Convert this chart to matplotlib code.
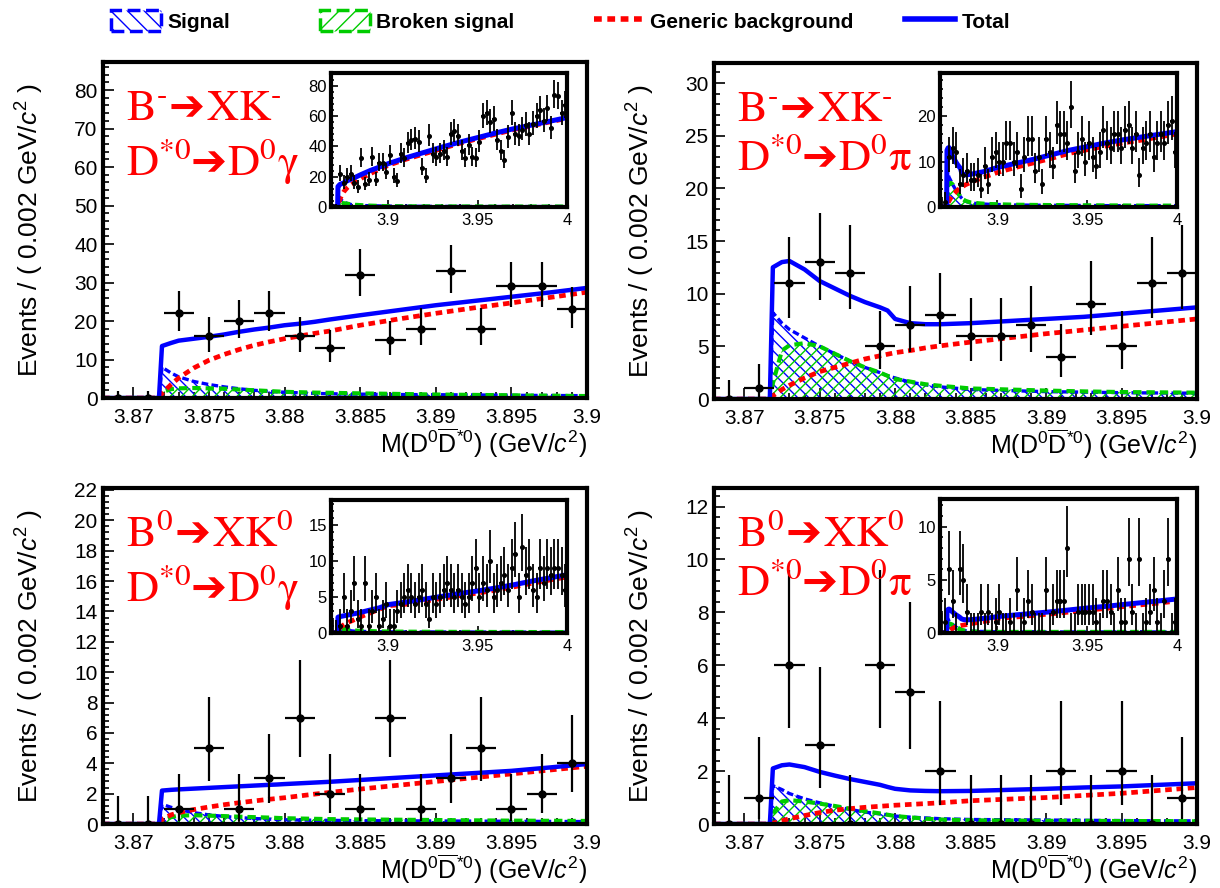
import math
import numpy as np
import matplotlib
matplotlib.use("Agg")
import matplotlib.pyplot as plt
from matplotlib.ticker import MultipleLocator, FuncFormatter
from matplotlib.patches import Patch
from matplotlib.lines import Line2D
from matplotlib.offsetbox import TextArea, HPacker, VPacker, AnnotationBbox

plt.rcParams.update({
    "font.family": ["Liberation Sans", "DejaVu Sans"],
    "mathtext.fontset": "custom",
    "mathtext.rm": "Liberation Sans",
    "mathtext.it": "Liberation Sans:italic",
    "mathtext.bf": "Liberation Sans:bold",
    "hatch.linewidth": 1.0,
})

# ---------------- data ----------------
X_MIN, X_MAIN_MAX, X_INSET_MAX, BIN_W = 3.868, 3.9, 4.0, 0.002

# counts per 0.002 GeV bin, 3.868 -> 4.0 (first 16 bins are the main-panel range)
TL_COUNTS = [0, 0, 22, 16, 20, 22, 16, 13, 32, 15, 18, 33, 18, 29, 29, 23] + \
    [34, 20, 17, 35, 32, 42, 44, 45, 43, 26, 20, 47, 35, 33, 35, 37, 33, 48, 50, 47,
     37, 32, 41, 33, 32, 43, 60, 62, 56, 58, 44, 37, 31, 46, 62, 48, 47, 51, 54, 48,
     55, 60, 64, 57, 65, 52, 74, 73, 62, 67]
TR_COUNTS = [0, 1, 11, 13, 12, 5, 7, 8, 6, 6, 7, 4, 9, 5, 11, 12] + \
    [10, 10, 14, 14, 10, 12, 4, 11, 15, 15, 8, 11, 5, 15, 12, 9, 18, 16, 16, 14,
     22, 8, 12, 15, 10, 14, 11, 9, 12, 17, 14, 13, 16, 16, 13, 17, 18, 13, 16, 7,
     13, 14, 16, 11, 14, 16, 14, 18, 19, 12]
BL_COUNTS = [0, 0, 1, 5, 1, 3, 7, 2, 1, 7, 1, 3, 5, 1, 2, 4] + \
    [1, 1, 3, 4, 5, 6, 5, 4, 5, 6, 4, 2, 5, 4, 5, 6, 7, 6, 5, 6,
     5, 4, 5, 7, 9, 5, 7, 6, 10, 5, 6, 7, 8, 6, 9, 11, 5, 12, 8, 9,
     6, 5, 9, 7, 9, 8, 9, 9, 8, 6]
BR_COUNTS = [0, 1, 6, 3, 0, 6, 5, 2, 0, 0, 0, 2, 0, 2, 0, 1] + \
    [2, 0, 0, 1, 0, 4, 0, 1, 3, 2, 0, 0, 0, 4, 0, 2, 3, 3, 3, 8,
     0, 0, 2, 2, 2, 2, 2, 1, 0, 3, 3, 2, 0, 4, 1, 1, 7, 2, 0, 7,
     0, 1, 2, 4, 1, 0, 3, 7, 0, 1]

# fitted PDF curves sampled at CURVE_X
CURVE_X = [3.868, 3.8717, 3.8719, 3.8725, 3.873, 3.874, 3.875, 3.876, 3.877, 3.878, 3.879,
           3.8795, 3.88, 3.881, 3.882, 3.883, 3.885, 3.8875, 3.89, 3.8925, 3.895, 3.8975, 3.9,
           3.91, 3.92, 3.93, 3.94, 3.95, 3.96, 3.97, 3.98, 3.99, 4.0]

TL_TOTAL = [0, 0, 13.5, 14.3, 14.9, 15.4, 15.9, 16.5, 17.2, 17.8, 18.3, 18.6, 18.9, 19.3, 19.8, 20.4,
            21.5, 22.8, 24.1, 25.2, 26.3, 27.4, 28.6, 32.5, 36, 39.5, 42.8, 45.8, 48.8, 51.6, 54, 56.5, 59]
TL_BKG = [0, 0, 1.2, 3.5, 5.2, 7.8, 9.8, 11.3, 12.6, 13.7, 14.6, 15.0, 15.4, 16.1, 16.8, 17.4,
          18.9, 20.5, 22, 23.4, 24.7, 26.1, 27.5, 31.5, 35, 38.5, 42, 45, 48, 51, 53.5, 56, 58.5]
TL_SIG = [0, 0, 8, 6.5, 5.5, 4.3, 3.5, 2.9, 2.4, 2.0, 1.7, 1.6, 1.5, 1.35, 1.2, 1.1,
          1.0, 0.9, 0.85, 0.8, 0.7, 0.65, 0.6, 0.5, 0.45, 0.4, 0.35, 0.3, 0.3, 0.3, 0.3, 0.3, 0.3]
TL_BRK = [0, 0, 1.5, 2.3, 2.5, 2.6, 2.5, 2.4, 2.2, 2.0, 1.8, 1.7, 1.6, 1.5, 1.4, 1.35,
          1.2, 1.05, 0.9, 0.8, 0.7, 0.6, 0.5, 0.45, 0.4, 0.4, 0.35, 0.35, 0.3, 0.3, 0.3, 0.3, 0.3]

TR_TOTAL = [0, 0, 12.5, 13.0, 13.1, 12.3, 11.2, 10.5, 9.8, 9.2, 8.7, 8.4, 7.6, 7.2, 7.1, 7.1,
            7.2, 7.4, 7.6, 7.8, 8.1, 8.4, 8.7, 9.6, 10.5, 11.5, 12.5, 13.3, 14.1, 14.8, 15.4, 16.0, 16.6]
TR_BKG = [0, 0, 0.3, 0.9, 1.3, 2.0, 2.6, 3.0, 3.4, 3.8, 4.1, 4.25, 4.4, 4.6, 4.85, 5.05,
          5.4, 5.8, 6.2, 6.55, 6.9, 7.25, 7.6, 8.7, 9.7, 10.7, 11.8, 12.6, 13.4, 14.1, 14.7, 15.4, 16.1]
TR_SIG = [0, 0, 8.2, 7.2, 6.6, 5.8, 5.0, 4.3, 3.6, 3.0, 2.5, 2.2, 2.0, 1.6, 1.35, 1.15,
          0.9, 0.8, 0.7, 0.65, 0.6, 0.57, 0.55, 0.45, 0.4, 0.38, 0.35, 0.33, 0.3, 0.3, 0.3, 0.3, 0.3]
TR_BRK = [0, 0, 1.5, 4.6, 5.1, 5.3, 5.0, 4.3, 3.6, 3.0, 2.5, 2.2, 1.9, 1.65, 1.4, 1.25,
          1.0, 0.9, 0.8, 0.72, 0.66, 0.63, 0.6, 0.5, 0.45, 0.42, 0.4, 0.37, 0.35, 0.33, 0.3, 0.3, 0.3]

BL_TOTAL = [0, 0, 2.2, 2.25, 2.28, 2.33, 2.38, 2.43, 2.48, 2.53, 2.58, 2.6, 2.63, 2.68, 2.73, 2.78,
            2.9, 3.05, 3.2, 3.35, 3.5, 3.72, 3.95, 4.3, 4.7, 5.1, 5.5, 5.85, 6.25, 6.7, 7.2, 7.65, 8.1]
BL_BKG = [0, 0, 0.3, 0.6, 0.75, 0.95, 1.12, 1.27, 1.4, 1.52, 1.63, 1.68, 1.73, 1.85, 1.97, 2.08,
          2.3, 2.55, 2.8, 3.05, 3.3, 3.55, 3.8, 4.0, 4.4, 4.8, 5.2, 5.55, 5.95, 6.4, 6.9, 7.35, 7.8]
BL_SIG = [0, 0, 1.3, 1.1, 0.95, 0.75, 0.6, 0.5, 0.42, 0.36, 0.32, 0.3, 0.28, 0.26, 0.25, 0.24,
          0.22, 0.21, 0.2, 0.19, 0.18, 0.17, 0.16, 0.15, 0.15, 0.14, 0.14, 0.13, 0.13, 0.13, 0.12, 0.12, 0.12]
BL_BRK = [0, 0, 0.2, 0.45, 0.55, 0.58, 0.55, 0.52, 0.48, 0.45, 0.42, 0.4, 0.38, 0.36, 0.34, 0.32,
          0.3, 0.28, 0.26, 0.24, 0.22, 0.21, 0.2, 0.18, 0.17, 0.16, 0.15, 0.15, 0.14, 0.14, 0.13, 0.13, 0.13]

BR_TOTAL = [0, 0, 2.1, 2.22, 2.25, 2.15, 1.97, 1.83, 1.7, 1.59, 1.48, 1.4, 1.33, 1.27, 1.25, 1.24,
            1.25, 1.29, 1.33, 1.38, 1.42, 1.48, 1.54, 1.7, 1.85, 2.0, 2.17, 2.35, 2.5, 2.68, 2.85, 3.02, 3.2]
BR_BKG = [0, 0, 0.03, 0.12, 0.2, 0.32, 0.43, 0.52, 0.58, 0.63, 0.67, 0.69, 0.71, 0.74, 0.77, 0.8,
          0.88, 0.94, 1.0, 1.08, 1.16, 1.27, 1.38, 1.5, 1.65, 1.8, 1.97, 2.15, 2.3, 2.48, 2.65, 2.82, 3.0]
BR_SIG = [0, 0, 1.45, 1.3, 1.15, 0.95, 0.8, 0.67, 0.55, 0.45, 0.38, 0.35, 0.3, 0.26, 0.23, 0.2,
          0.17, 0.16, 0.15, 0.14, 0.13, 0.12, 0.12, 0.1, 0.1, 0.1, 0.1, 0.1, 0.1, 0.1, 0.1, 0.1, 0.1]
BR_BRK = [0, 0, 0.4, 0.85, 0.9, 0.85, 0.77, 0.68, 0.58, 0.48, 0.4, 0.35, 0.3, 0.25, 0.2, 0.17,
          0.14, 0.13, 0.12, 0.12, 0.11, 0.11, 0.1, 0.1, 0.1, 0.1, 0.1, 0.1, 0.1, 0.1, 0.1, 0.1, 0.1]

HY = "\u2010"  # short hyphen used as the charge superscript
LABELS = {
    "TL": (r"$\mathrm{B^{%s}}$" % HY, r"$\mathrm{XK^{%s}}$" % HY, r"$\mathrm{D^{*0}}$", r"$\mathrm{D^{0}\gamma}$"),
    "TR": (r"$\mathrm{B^{%s}}$" % HY, r"$\mathrm{XK^{%s}}$" % HY, r"$\mathrm{D^{*0}}$", r"$\mathrm{D^{0}\pi}$"),
    "BL": (r"$\mathrm{B^{0}}$", r"$\mathrm{XK^{0}}$", r"$\mathrm{D^{*0}}$", r"$\mathrm{D^{0}\gamma}$"),
    "BR": (r"$\mathrm{B^{0}}$", r"$\mathrm{XK^{0}}$", r"$\mathrm{D^{*0}}$", r"$\mathrm{D^{0}\pi}$"),
}
LEGEND_LABELS = ["Signal", "Broken signal", "Generic background", "Total"]
YLABEL = r"Events / ( 0.002 GeV/$c^{2}$ )"
XLABEL = r"M(D$^{0}\overline{\mathrm{D}}^{*0}$) (GeV/$c^{2}$)"

# ---------------- helpers ----------------
W, H = 1220, 888


def poisson_errors(n):
    def cdf(k, mu):
        if k < 0:
            return 0.0
        term = math.exp(-mu)
        s = term
        for i in range(1, k + 1):
            term *= mu / i
            s += term
        return s
    alpha = 0.158655

    def solve(f, target):
        lo, hi = 0.0, n + 30.0 + 10 * math.sqrt(n + 1)
        for _ in range(80):
            mid = 0.5 * (lo + hi)
            if f(mid) > target:
                lo = mid
            else:
                hi = mid
        return 0.5 * (lo + hi)
    up = solve(lambda mu: cdf(n, mu), alpha)
    low = 0.0 if n == 0 else solve(lambda mu: cdf(n - 1, mu), 1 - alpha)
    return n - low, up - n


def px_axes(fig, l, t, r, b):
    return fig.add_axes([l / W, 1 - b / H, (r - l) / W, (b - t) / H])


fmt_g = FuncFormatter(lambda v, p: "%g" % round(v, 6))


def draw_content(ax, counts, total, bkg, sig, brk, inset):
    n = len(counts)
    centers = X_MIN + BIN_W * (np.arange(n) + 0.5)
    errs = np.array([poisson_errors(c) for c in counts]).T
    ms = 2.6 if inset else 5
    elw = 1.3 if inset else 1.6
    lw_tot = 3.6 if inset else 3.2
    ax.errorbar(centers, counts, yerr=errs, xerr=BIN_W / 2, fmt="o", color="black",
                ms=ms, elinewidth=elw, capsize=0, zorder=6)
    ax.fill_between(CURVE_X, 0, sig, facecolor="none", edgecolor="blue",
                    hatch="\\\\\\", linewidth=0, zorder=2)
    ax.fill_between(CURVE_X, 0, brk, facecolor="none", edgecolor="#00cc00",
                    hatch="///", linewidth=0, zorder=2)
    ax.plot(CURVE_X, sig, color="blue", ls=(0, (2.0, 1.0)), lw=2.4, zorder=3)
    ax.plot(CURVE_X, brk, color="#00cc00", ls=(0, (2.0, 1.2)), lw=3.0, zorder=3)
    ax.plot(CURVE_X, bkg, color="red", ls=(0, (1.4, 1.0)), lw=3.4, zorder=4)
    ax.plot(CURVE_X, total, color="blue", lw=lw_tot, zorder=5)


def style_axes(ax, ymax, ymaj, xmax, xmaj, xmin_step, labelsize, spine_lw, ticklen):
    ax.set_xlim(X_MIN, xmax)
    ax.set_ylim(0, ymax)
    ax.xaxis.set_major_locator(MultipleLocator(xmaj))
    ax.xaxis.set_minor_locator(MultipleLocator(xmin_step))
    ax.yaxis.set_major_locator(MultipleLocator(ymaj))
    ax.yaxis.set_minor_locator(MultipleLocator(ymaj / 5))
    ax.xaxis.set_major_formatter(fmt_g)
    ax.yaxis.set_major_formatter(fmt_g)
    ax.tick_params(which="both", direction="in", top=False, right=False, width=1.2)
    ax.tick_params(which="major", length=ticklen, labelsize=labelsize)
    ax.tick_params(which="minor", length=ticklen / 2)
    ax.tick_params(axis="x", pad=7 if labelsize > 13 else 4)
    ax.tick_params(axis="y", pad=4 if labelsize > 13 else 3)
    for s in ax.spines.values():
        s.set_linewidth(spine_lw)
        s.set_zorder(10)


def decay_label(ax, parts):
    b, xk, dstar, dfin = parts
    red_m = dict(color="red", fontsize=32, math_fontfamily="stix")
    red_a = dict(color="red", fontsize=31, family="DejaVu Sans")
    line1 = HPacker(children=[TextArea(b, textprops=red_m), TextArea("\u2794", textprops=red_a),
                              TextArea(xk, textprops=red_m)], align="baseline", pad=0, sep=1)
    line2 = HPacker(children=[TextArea(dstar, textprops=red_m), TextArea("\u2794", textprops=red_a),
                              TextArea(dfin, textprops=red_m)], align="baseline", pad=0, sep=0)
    box = VPacker(children=[line1, line2], align="left", pad=0, sep=5)
    ab = AnnotationBbox(box, (0.047, 0.925), xycoords="axes fraction", box_alignment=(0, 1),
                        frameon=False, pad=0, zorder=20)
    ax.add_artist(ab)


# ---------------- figure ----------------
fig = plt.figure(figsize=(W / 100, H / 100), dpi=100)

panels = [
    ("TL", (103, 62, 587, 398), (331, 73, 567, 207), TL_COUNTS, TL_TOTAL, TL_BKG, TL_SIG, TL_BRK, 87.3, 10, 88.4, 20),
    ("TR", (714, 63, 1197, 399), (940, 73, 1177, 207), TR_COUNTS, TR_TOTAL, TR_BKG, TR_SIG, TR_BRK, 31.9, 5, 29.5, 10),
    ("BL", (103, 488, 587, 824), (331, 500, 567, 633), BL_COUNTS, BL_TOTAL, BL_BKG, BL_SIG, BL_BRK, 22.13, 2, 18.5, 5),
    ("BR", (714, 488, 1197, 824), (940, 499, 1177, 633), BR_COUNTS, BR_TOTAL, BR_BKG, BR_SIG, BR_BRK, 12.7, 2, 12.6, 5),
]

for key, mpos, ipos, counts, tot, bkg, sig, brk, ymax, ymaj, iymax, iymaj in panels:
    ax = px_axes(fig, *mpos)
    draw_content(ax, counts[:16], tot, bkg, sig, brk, inset=False)
    style_axes(ax, ymax, ymaj, X_MAIN_MAX, 0.005, 0.001, 15, 3.0, 8)
    ax.set_ylabel(YLABEL, fontsize=19)
    ax.yaxis.set_label_coords(-0.118, 0.5)
    ax.set_xlabel(XLABEL, fontsize=18, loc="right")
    ax.xaxis.set_label_coords(1.0, -0.085)
    decay_label(ax, LABELS[key])

    ia = px_axes(fig, *ipos)
    ia.set_zorder(15)
    draw_content(ia, counts, tot, bkg, sig, brk, inset=True)
    style_axes(ia, iymax, iymaj, X_INSET_MAX, 0.05, 0.01, 12, 3.0, 5)

# ---------------- legend ----------------
handles = [
    Patch(facecolor="white", edgecolor="blue", hatch="\\\\", linestyle="--", linewidth=2.5),
    Patch(facecolor="white", edgecolor="#00cc00", hatch="//", linestyle="--", linewidth=2.5),
    Line2D([], [], color="red", ls=(0, (1.4, 1.0)), lw=4),
    Line2D([], [], color="blue", lw=4),
]
leg_x = [111, 320, 594, 905]
for h, lab, xp in zip(handles, LEGEND_LABELS, leg_x):
    fig.legend([h], [lab], loc="center left", bbox_to_anchor=(xp / W, 1 - 21 / H),
               frameon=False, borderpad=0, borderaxespad=0, handlelength=2.4,
               handleheight=1.2, handletextpad=0.3,
               prop=dict(family="Liberation Sans", weight="bold", size=15))

fig.savefig("out.png", dpi=100)
